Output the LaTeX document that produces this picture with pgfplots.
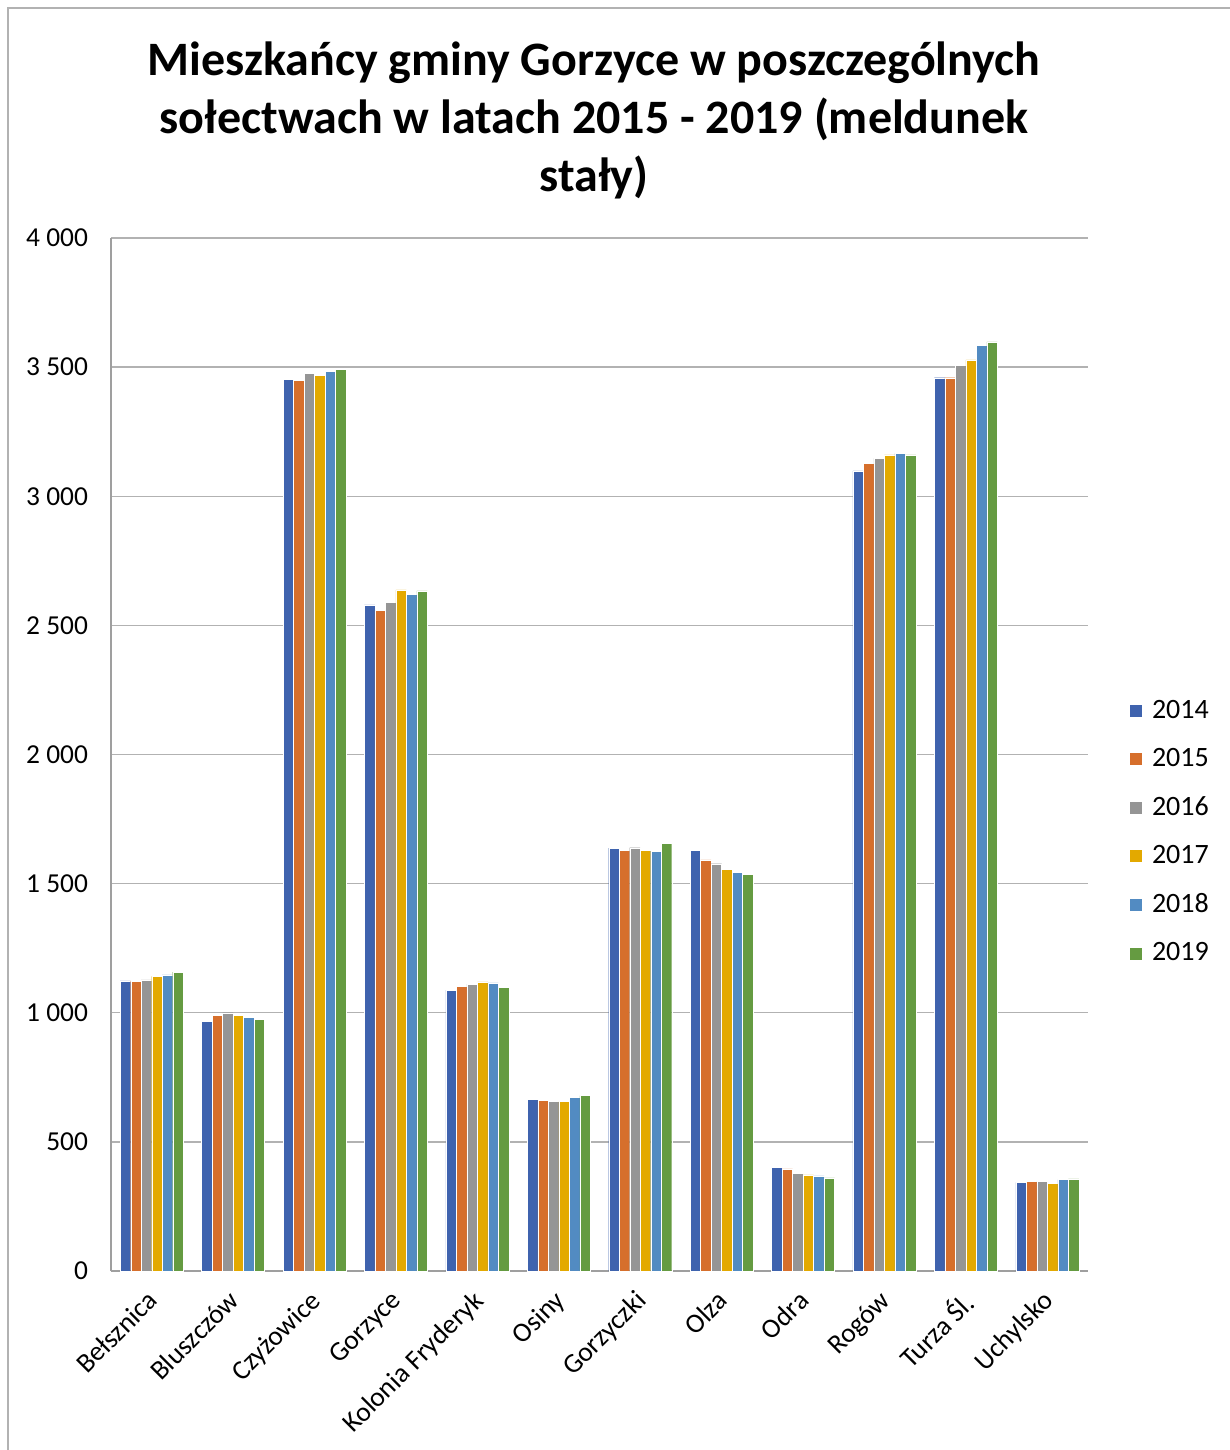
\documentclass[border=0pt]{standalone}
\usepackage{fontspec}
\setmainfont{Carlito}
\usepackage{pgfplots}
\usepackage{pgfplotstable}
\pgfplotsset{compat=1.18}

\definecolor{c14}{HTML}{3F63AE}
\definecolor{c15}{HTML}{D66F2C}
\definecolor{c16}{HTML}{959595}
\definecolor{c17}{HTML}{E3A900}
\definecolor{c18}{HTML}{528BC2}
\definecolor{c19}{HTML}{659B41}

% sołectwa, meldunek stały
\pgfplotstableread{
x  a14  a15  a16  a17  a18  a19
0  1123 1122 1127 1141 1147 1157
1  968  989  1000 991  983  975
2  3453 3449 3476 3467 3484 3490
3  2579 2557 2588 2637 2620 2634
4  1088 1101 1111 1120 1116 1098
5  666  662  658  656  673  679
6  1637 1630 1639 1630 1626 1656
7  1630 1592 1577 1554 1543 1536
8  400  395  378  372  368  361
9  3098 3128 3147 3160 3166 3160
10 3459 3459 3508 3528 3584 3598
11 343  347  346  340  354  357
}\dane

\begin{document}
\begin{tikzpicture}
% 1 px = 0.5pt, origin at bottom-left
\useasboundingbox (0pt,0pt) rectangle (615pt,725pt);
\draw[gray!60, line width=0.8pt] (4pt,0pt) -- (4pt,721pt) -- (615pt,721pt);
\node[font=\bfseries\fontsize{24}{29}\selectfont, align=center] at (297pt,665pt)
  {Mieszkańcy gminy Gorzyce w poszczególnych\\sołectwach w latach 2015 - 2019 (meldunek\\stały)};
\begin{axis}[
    at={(55.5pt,89.5pt)}, anchor=south west,
    width=488.5pt, height=516.5pt, scale only axis,
    xmin=-0.5, xmax=11.5, ymin=0, ymax=4000,
    ytick={0,500,...,4000},
    xtick={0,...,11},
    xticklabels={Bełsznica,Bluszczów,Czyżowice,Gorzyce,Kolonia Fryderyk,Osiny,Gorzyczki,Olza,Odra,Rogów,Turza Śl.,Uchylsko},
    ybar=0pt, bar width=5.25pt,
    axis x line=bottom, axis y line=left,
    axis line style={-, draw=gray!75, line width=0.8pt},
    major tick length=0pt,
    ymajorgrids, grid style={gray!60, line width=0.7pt},
    /pgf/number format/assume math mode=true,
    /pgf/number format/1000 sep={\ },
    ticklabel style={font=\fontsize{13.7}{16}\selectfont},
    yticklabel style={anchor=east, xshift=-8pt},
    xticklabel style={xshift=-3pt, yshift=-4pt, rotate=45, anchor=north east},
    legend style={at={(axis description cs:1.035,0.425)}, anchor=west, draw=none,
      font=\fontsize{14}{16}\selectfont, row sep=9.5pt},
    legend cell align=left,
    legend image code/.code={\fill[#1] (0pt,-3.25pt) rectangle (6.5pt,3.25pt);},
]
\addplot[fill=c14, draw=white, line width=0.2pt] table[x=x,y=a14] {\dane};
\addplot[fill=c15, draw=white, line width=0.2pt] table[x=x,y=a15] {\dane};
\addplot[fill=c16, draw=white, line width=0.2pt] table[x=x,y=a16] {\dane};
\addplot[fill=c17, draw=white, line width=0.2pt] table[x=x,y=a17] {\dane};
\addplot[fill=c18, draw=white, line width=0.2pt] table[x=x,y=a18] {\dane};
\addplot[fill=c19, draw=white, line width=0.2pt] table[x=x,y=a19] {\dane};
\legend{\hspace{3pt}2014,\hspace{3pt}2015,\hspace{3pt}2016,\hspace{3pt}2017,\hspace{3pt}2018,\hspace{3pt}2019}
\end{axis}
\end{tikzpicture}
\end{document}
